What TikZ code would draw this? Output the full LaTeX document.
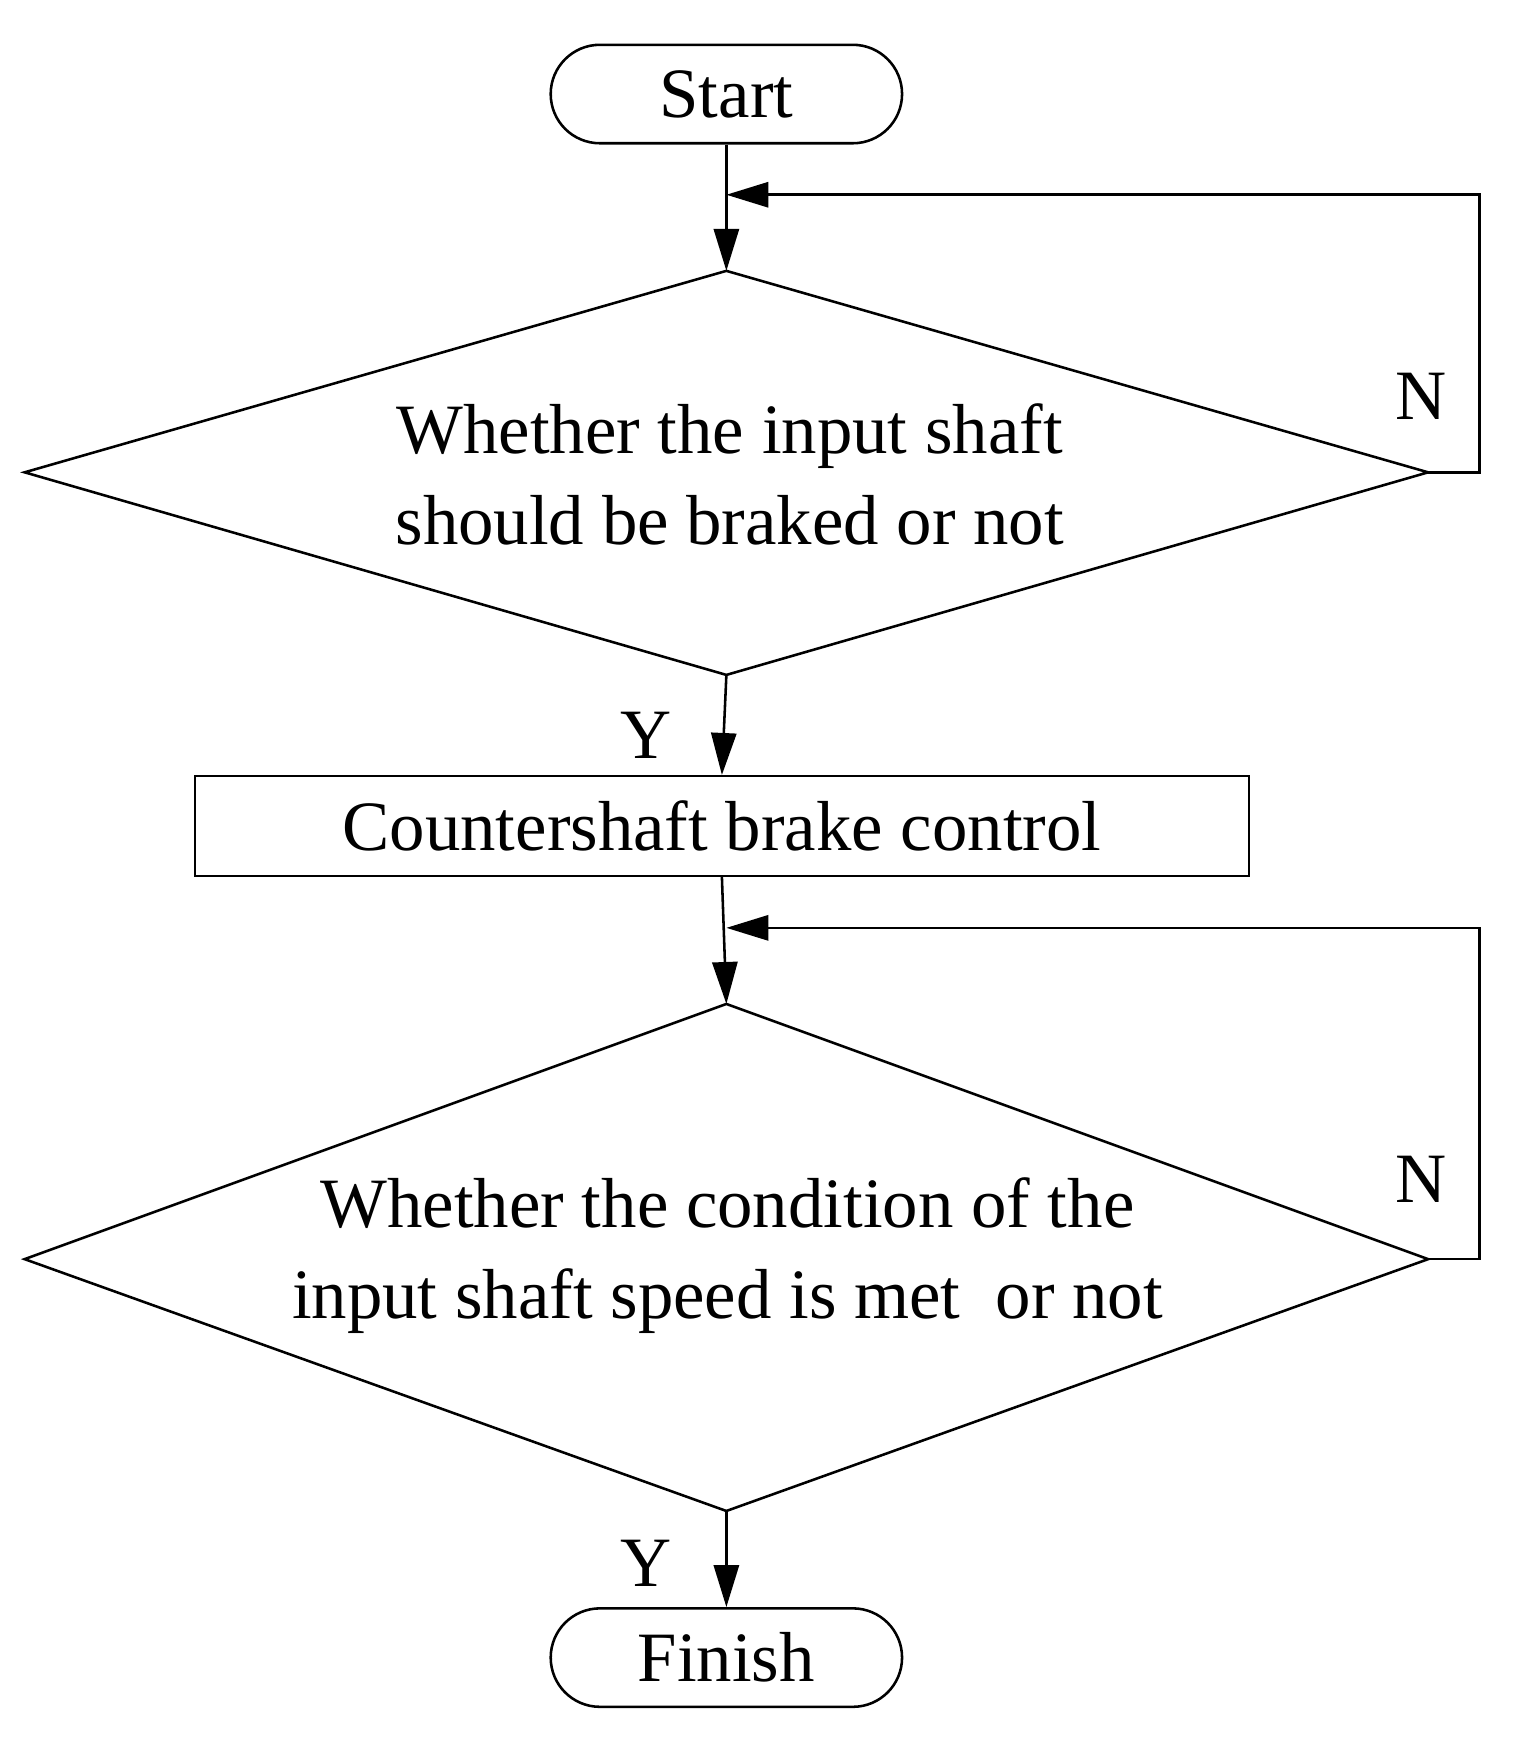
\documentclass[tikz,border=0pt]{standalone}
\usepackage{fontspec}
\setmainfont{Liberation Serif}
\usetikzlibrary{arrows.meta}
\begin{document}
\begin{tikzpicture}[x=0.02cm,y=-0.02cm,
  line width=1.3pt,
  txt/.style={font=\fontsize{36}{46}\selectfont,align=center,inner sep=0},
  term/.style={draw,rounded corners=0.88cm,minimum width=6.28cm,minimum height=1.76cm,font=\fontsize{36}{46}\selectfont},
  proc/.style={draw,minimum width=18.84cm,minimum height=1.78cm,font=\fontsize{36}{46}\selectfont},
  arr/.style={-{Triangle[length=0.75cm,width=0.45cm]}},
  lab/.style={font=\fontsize{36}{46}\selectfont,inner sep=0}]
\useasboundingbox (0,0) rectangle (1352,1560);
\node[term] (start) at (649,84) {Start};
% diamond 1
\coordinate (d1t) at (649,242); \coordinate (d1l) at (22,422);
\coordinate (d1r) at (1276,422); \coordinate (d1b) at (649,603);
\draw (d1t) -- (d1r) -- (d1b) -- (d1l) -- cycle;
\node[txt] (d1) at (652,424) {Whether the input shaft\\should be braked or not};
\node[proc] (box) at (645,738) {Countershaft brake control};
% diamond 2
\coordinate (d2t) at (649,897); \coordinate (d2l) at (22,1125);
\coordinate (d2r) at (1276,1125); \coordinate (d2b) at (649,1350);
\draw (d2t) -- (d2r) -- (d2b) -- (d2l) -- cycle;
\node[txt] (d2) at (650,1122) {Whether the condition of the\\input shaft speed is met\ \ or not};
\node[term] (finish) at (649,1481) {Finish};
% connectors
\coordinate (j1) at (649,174); \coordinate (j2) at (649,829);
\coordinate (r1) at (1322,422); \coordinate (r2) at (1322,1125);
\draw[arr] (start.south) -- (d1t);
\draw[arr] (d1r) -- (r1) |- (j1);
\draw[arr] (d1b) -- (box.north);
\draw[arr] (box.south) -- (d2t);
\draw[arr] (d2r) -- (r2) |- (j2);
\draw[arr] (d2b) -- (finish.north);
\node[lab] (n1) at (1270,354) {N};
\node[lab] (y1) at (577,657) {Y};
\node[lab] (n2) at (1270,1054) {N};
\node[lab] (y2) at (577,1397) {Y};
\end{tikzpicture}
\end{document}
